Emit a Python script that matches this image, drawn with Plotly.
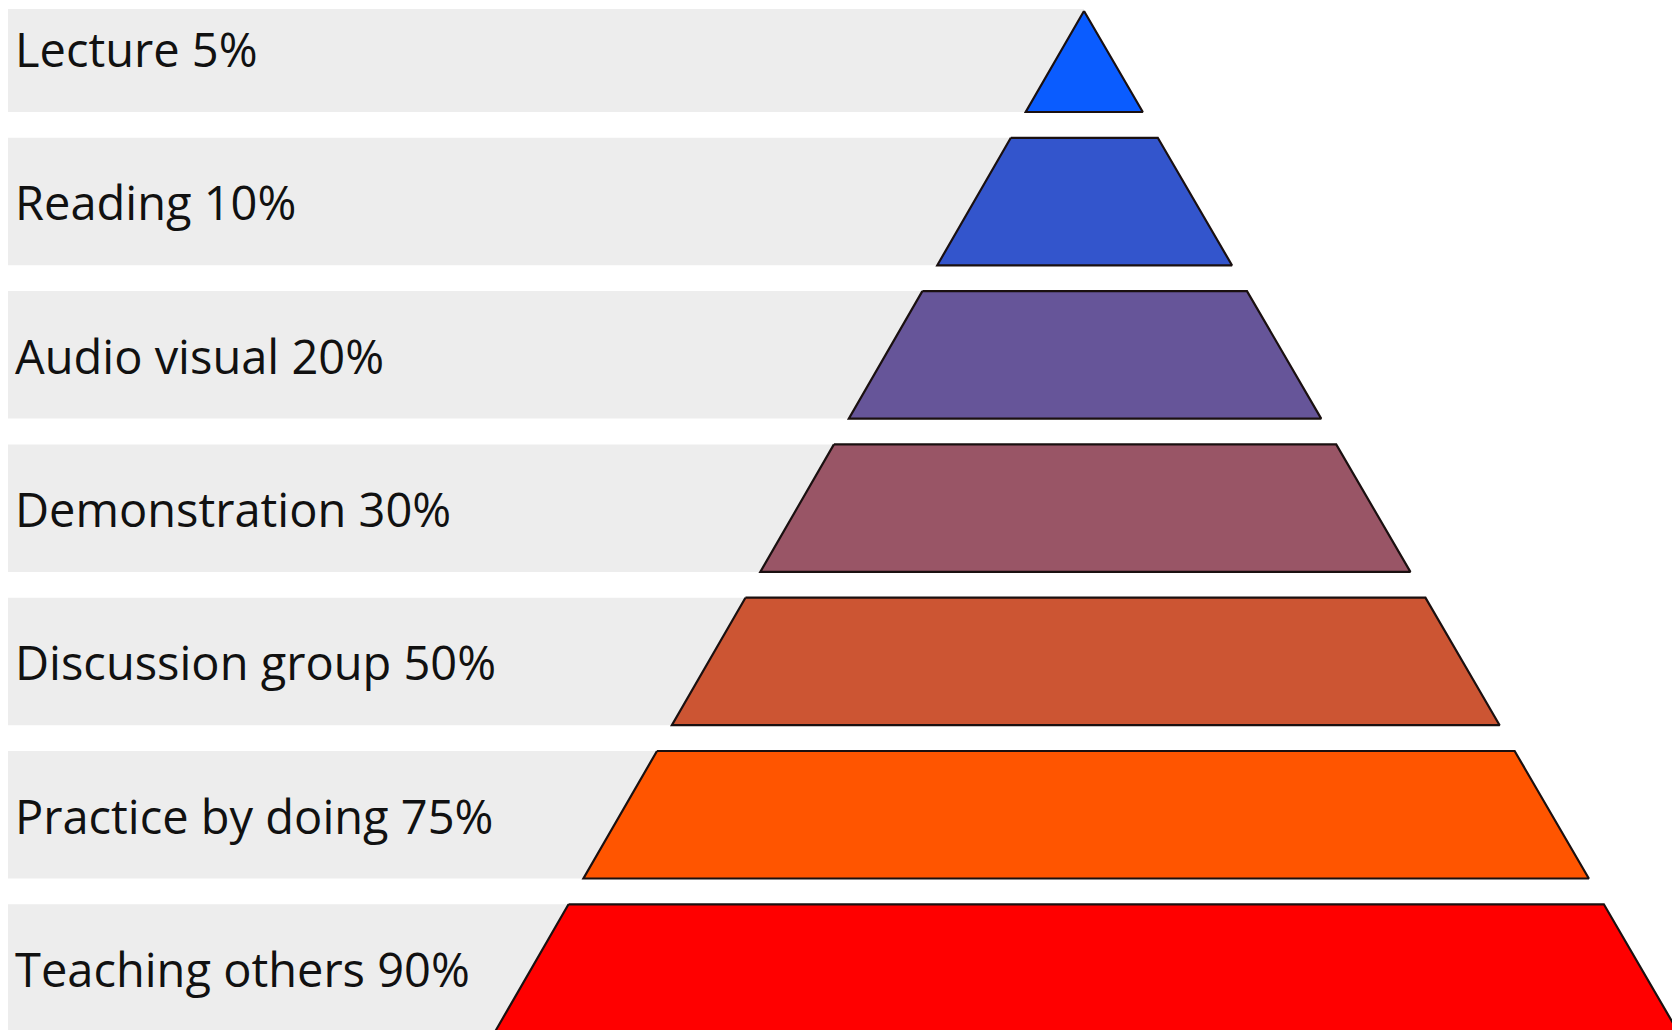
import plotly.graph_objects as go

# ---- data ----
methods = ["Lecture", "Reading", "Audio visual", "Demonstration",
           "Discussion group", "Practice by doing", "Teaching others"]
retention = [5, 10, 20, 30, 50, 75, 90]
colors = ["#0a5cff", "#3355cc", "#665599", "#995566",
          "#cc5533", "#ff5500", "#ff0000"]

# ---- geometry (diagram coordinates = page pixels) ----
W, H = 1680, 1030
OFF = 8  # page body margin
apex_x, apex_y = 1084, 11
base_y, base_left, base_right = 1030, 496, 1677
pitch = 153.3
band_h = 127.5
first_bottom = 112
gray_left = 7
gray_color = "#ededed"


def left_at(y):
    return apex_x - (apex_x - base_left) * (y - apex_y) / (base_y - apex_y)


def right_at(y):
    return apex_x + (base_right - apex_x) * (y - apex_y) / (base_y - apex_y)


fig = go.Figure()
shapes = []
annotations = []
for i, (m, r, c) in enumerate(zip(methods, retention, colors)):
    bottom = first_bottom + pitch * i
    top = max(bottom - band_h, 9)
    shapes.append(dict(type="rect", xref="x", yref="y", x0=gray_left, x1=apex_x,
                       y0=top, y1=bottom, fillcolor=gray_color,
                       line=dict(width=0), layer="below"))
    if i == 0:
        xs = [apex_x, right_at(bottom), left_at(bottom), apex_x]
        ys = [apex_y, bottom, bottom, apex_y]
    else:
        bot = min(bottom, base_y + 20)
        xs = [left_at(top), right_at(top), right_at(bot), left_at(bot), left_at(top)]
        ys = [top, top, bot, bot, top]
    fig.add_trace(go.Scatter(x=xs, y=ys, mode="lines", fill="toself",
                             fillcolor=c, line=dict(color="#1a1010", width=2.2),
                             hoverinfo="text", text=f"{m} {r}%", showlegend=False))
    annotations.append(dict(x=13, y=bottom - 63, xref="x", yref="y",
                            text=f"{m} {r}%", showarrow=False,
                            xanchor="left", yanchor="middle",
                            font=dict(family="Open Sans", size=47, color="#111111")))

fig.update_layout(
    width=W, height=H,
    margin=dict(l=0, r=0, t=0, b=0),
    paper_bgcolor="white", plot_bgcolor="white",
    shapes=shapes, annotations=annotations,
    xaxis=dict(range=[OFF, W + OFF], visible=False, fixedrange=True),
    yaxis=dict(range=[H + OFF, OFF], visible=False, fixedrange=True),
)

fig.write_html("out.html")
